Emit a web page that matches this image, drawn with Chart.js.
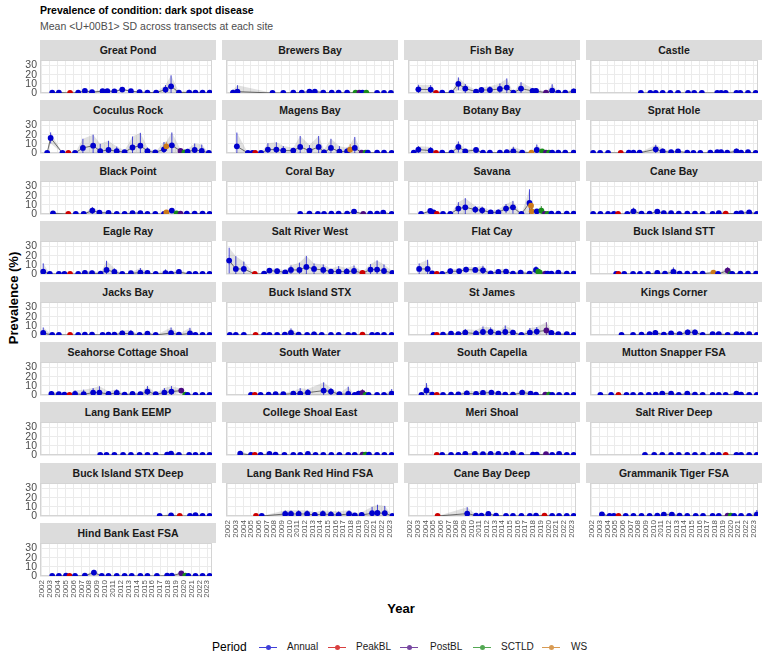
<!DOCTYPE html>
<html>
<head>
<meta charset="utf-8">
<script src="https://cdn.jsdelivr.net/npm/chart.js@4.4.1/dist/chart.umd.min.js"></script>
<style>
  body { margin: 0; background: #fff; width: 768px; height: 672px; position: relative; overflow: hidden;
         font-family: "Liberation Sans", Arial, sans-serif; }
  .abs { position: absolute; white-space: nowrap; }
  .strip { position: absolute; height: 20px; width: 176px; background: #dcdcdc; color: #1a1a1a;
           font-weight: bold; font-size: 10.5px; line-height: 20px; text-align: center; }
  canvas { position: absolute; }
  .key { position: absolute; width: 18px; height: 1px; }
  .dot { position: absolute; width: 5px; height: 5px; border-radius: 50%; left: 6.5px; top: -2px; }
</style>
</head>
<body>
<div class="abs" style="left:40px;top:4px;font-weight:bold;font-size:10.5px;color:#000">Prevalence of condition: dark spot disease</div>
<div class="abs" style="left:40px;top:20px;font-size:10.5px;color:#4d4d4d">Mean &lt;U+00B1&gt; SD across transects at each site</div>
<div class="abs" style="left:13px;top:298px;transform:translate(-50%,-50%) rotate(-90deg);font-weight:bold;font-size:13px;color:#000">Prevalence (%)</div>
<div class="abs" style="left:401px;top:608px;transform:translate(-50%,-50%);font-weight:bold;font-size:13px;color:#000">Year</div>
<div id="legend"></div>

<script>
// --- data -------------------------------------------------------------
const periodNames = ['Annual', 'PeakBL', 'PostBL', 'SCTLD', 'WS'];
const periodColors = ['#0000cd', '#cd0000', '#4b0a82', '#1a8c1a', '#cc7a1a'];
const yearTicks = [2002, 2003, 2004, 2005, 2006, 2007, 2008, 2009, 2010, 2011, 2012,
                   2013, 2014, 2015, 2016, 2017, 2018, 2019, 2020, 2021, 2022, 2023];
const yTicks = [0, 10, 20, 30];

const siteNames = [
  'Great Pond', 'Brewers Bay', 'Fish Bay', 'Castle',
  'Coculus Rock', 'Magens Bay', 'Botany Bay', 'Sprat Hole',
  'Black Point', 'Coral Bay', 'Savana', 'Cane Bay',
  'Eagle Ray', 'Salt River West', 'Flat Cay', 'Buck Island STT',
  'Jacks Bay', 'Buck Island STX', 'St James', 'Kings Corner',
  'Seahorse Cottage Shoal', 'South Water', 'South Capella', 'Mutton Snapper FSA',
  'Lang Bank EEMP', 'College Shoal East', 'Meri Shoal', 'Salt River Deep',
  'Buck Island STX Deep', 'Lang Bank Red Hind FSA', 'Cane Bay Deep', 'Grammanik Tiger FSA',
  'Hind Bank East FSA'
];

const siteYears = [
  [2003.3, 2004.15, 2005.57, 2006.6, 2007.45, 2008.36, 2009.7, 2010.3, 2011.2, 2012.2, 2013.3, 2014.4, 2015.4, 2016.5, 2017.7, 2018.4, 2019.4, 2020.7, 2021.5, 2022.4, 2023.3],
  [2002.66, 2003.24, 2007.8, 2009.2, 2010.5, 2011.6, 2012.6, 2013.3, 2014.4, 2015.5, 2016.4, 2017.5, 2018.6, 2019.1, 2019.5, 2020.0, 2021.4, 2022.3, 2023.2],
  [2003.1, 2004.7, 2005.4, 2006.2, 2007.4, 2008.3, 2009.2, 2010.6, 2011.3, 2012.4, 2013.7, 2014.6, 2015.45, 2016.45, 2017.95, 2018.4, 2019.7, 2020.5, 2021.3, 2022.2, 2023.3],
  [2008.37, 2009.6, 2010.3, 2011.2, 2012.2, 2013.2, 2014.5, 2015.3, 2016.3, 2018.3, 2018.8, 2019.4, 2020.8, 2021.3, 2022.3, 2023.3],
  [2002.66, 2003.1, 2004.6, 2005.35, 2006.2, 2007.2, 2008.5, 2009.4, 2010.45, 2011.5, 2012.5, 2013.5, 2014.5, 2015.4, 2016.4, 2017.5, 2017.8, 2018.5, 2019.6, 2020.1, 2020.5, 2021.4, 2022.3, 2023.2],
  [2003.16, 2004.6, 2005.2, 2005.55, 2006.3, 2007.2, 2008.3, 2009.2, 2010.5, 2011.4, 2012.6, 2013.8, 2014.5, 2015.4, 2016.5, 2017.5, 2017.9, 2018.5, 2019.4, 2019.9, 2020.2, 2021.4, 2022.3, 2023.3],
  [2002.5, 2003.1, 2004.7, 2005.4, 2006.2, 2007.4, 2008.3, 2009.2, 2010.6, 2011.5, 2012.4, 2013.7, 2014.6, 2015.45, 2016.6, 2017.8, 2018.5, 2019.2, 2019.7, 2020.1, 2020.5, 2021.3, 2022.2, 2023.3],
  [2002.16, 2003.07, 2004.1, 2005.75, 2006.8, 2007.4, 2008.2, 2010.3, 2011.2, 2012.3, 2013.2, 2014.4, 2015.2, 2016.1, 2017.4, 2018.3, 2018.8, 2019.6, 2020.8, 2021.4, 2022.3, 2023.3],
  [2003.4, 2005.35, 2006.3, 2007.3, 2008.4, 2009.3, 2010.45, 2011.5, 2012.5, 2013.5, 2014.5, 2015.4, 2016.4, 2017.5, 2017.8, 2018.5, 2019.1, 2019.6, 2020.4, 2021.4, 2022.4, 2023.3],
  [2011.4, 2012.6, 2013.7, 2014.5, 2015.45, 2016.4, 2017.5, 2018.4, 2019.6, 2020.5, 2021.4, 2022.2, 2023.3],
  [2003.45, 2004.65, 2005.07, 2005.5, 2006.3, 2007.25, 2008.3, 2009.2, 2010.5, 2011.4, 2012.5, 2013.5, 2014.5, 2015.4, 2016.5, 2017.55, 2017.75, 2017.85, 2018.5, 2019.1, 2019.55, 2019.9, 2020.4, 2021.3, 2022.4, 2023.3],
  [2002.16, 2003.1, 2004.1, 2004.85, 2005.4, 2006.6, 2007.4, 2008.45, 2009.5, 2010.5, 2011.35, 2012.3, 2013.3, 2014.4, 2015.4, 2016.4, 2017.7, 2018.5, 2019.4, 2020.8, 2021.4, 2022.45, 2023.45],
  [2002.16, 2003.0, 2004.15, 2004.85, 2005.57, 2006.6, 2007.45, 2008.36, 2009.45, 2010.2, 2011.2, 2012.2, 2013.3, 2014.5, 2015.4, 2016.45, 2017.7, 2018.4, 2019.4, 2020.7, 2021.5, 2022.4, 2023.3],
  [2002.16, 2003.03, 2004.07, 2005.5, 2006.7, 2007.4, 2008.4, 2009.45, 2010.2, 2011.3, 2012.2, 2013.2, 2014.4, 2015.4, 2016.4, 2017.45, 2018.4, 2019.5, 2020.55, 2021.4, 2022.3, 2023.4],
  [2003.2, 2004.3, 2004.9, 2005.5, 2006.2, 2007.25, 2008.4, 2009.3, 2010.5, 2011.5, 2012.5, 2013.5, 2014.5, 2015.4, 2016.4, 2017.55, 2018.4, 2018.7, 2018.9, 2019.6, 2019.9, 2020.4, 2021.3, 2022.4, 2023.3],
  [2005.15, 2005.45, 2006.2, 2007.35, 2008.25, 2009.3, 2010.5, 2011.5, 2012.6, 2013.4, 2014.4, 2015.4, 2016.4, 2017.8, 2018.4, 2019.65, 2020.05, 2020.25, 2021.3, 2022.3, 2023.35],
  [2002.16, 2003.3, 2004.15, 2005.57, 2006.6, 2007.45, 2008.36, 2009.7, 2010.45, 2011.2, 2012.2, 2013.3, 2014.4, 2015.4, 2016.45, 2018.4, 2019.4, 2020.8, 2021.5, 2022.4, 2023.3],
  [2002.25, 2003.03, 2004.07, 2005.6, 2006.7, 2007.4, 2008.4, 2009.4, 2010.2, 2011.2, 2012.3, 2013.2, 2014.2, 2015.4, 2016.4, 2017.65, 2018.4, 2019.5, 2020.75, 2021.45, 2022.3, 2023.3],
  [2005.07, 2005.5, 2006.3, 2007.35, 2008.3, 2009.2, 2010.6, 2011.5, 2012.5, 2013.5, 2014.4, 2015.4, 2016.5, 2017.6, 2018.5, 2019.75, 2020.4, 2021.3, 2022.4, 2023.3],
  [2005.85, 2007.35, 2008.45, 2009.5, 2010.25, 2011.35, 2012.3, 2013.4, 2014.45, 2015.4, 2016.4, 2017.7, 2018.5, 2019.65, 2020.8, 2021.5, 2022.45, 2023.45],
  [2003.2, 2004.15, 2004.85, 2005.5, 2006.2, 2007.3, 2008.5, 2009.3, 2010.45, 2011.5, 2012.5, 2013.5, 2014.5, 2015.4, 2016.45, 2017.55, 2018.45, 2019.7, 2020.2, 2020.5, 2021.5, 2022.4, 2023.3],
  [2005.0, 2005.5, 2006.25, 2007.3, 2008.2, 2009.2, 2010.5, 2011.4, 2012.4, 2014.45, 2015.4, 2016.5, 2017.65, 2018.5, 2019.0, 2019.5, 2019.9, 2020.3, 2021.4, 2022.3, 2023.3],
  [2003.5, 2004.15, 2004.9, 2005.5, 2006.3, 2007.35, 2008.3, 2009.4, 2010.6, 2011.5, 2012.6, 2013.5, 2014.4, 2015.4, 2016.6, 2017.7, 2018.4, 2019.6, 2020.1, 2020.5, 2021.4, 2022.4, 2023.3],
  [2003.1, 2004.5, 2005.45, 2006.5, 2007.35, 2008.35, 2009.4, 2010.3, 2011.15, 2012.3, 2013.3, 2014.4, 2015.4, 2016.4, 2017.7, 2018.5, 2019.4, 2020.8, 2021.4, 2022.45, 2023.45],
  [2009.4, 2010.2, 2011.2, 2012.3, 2013.3, 2014.4, 2015.4, 2016.45, 2017.9, 2018.4, 2019.4, 2020.7, 2021.5, 2022.4, 2023.3],
  [2003.6, 2005.0, 2005.5, 2006.25, 2007.4, 2008.2, 2009.35, 2010.5, 2011.4, 2012.4, 2013.4, 2014.4, 2015.45, 2016.5, 2017.65, 2018.5, 2019.5, 2019.9, 2020.35, 2021.4, 2022.35, 2023.3],
  [2005.5, 2006.2, 2007.35, 2008.3, 2009.2, 2010.45, 2011.5, 2012.5, 2013.5, 2014.5, 2015.4, 2016.5, 2018.0, 2018.5, 2019.7, 2020.5, 2021.4, 2022.4, 2023.3],
  [2008.9, 2010.1, 2011.15, 2012.3, 2013.3, 2014.4, 2015.4, 2016.45, 2017.7, 2018.5, 2019.4, 2020.8, 2021.4, 2022.45, 2023.45],
  [2016.95, 2018.4, 2019.5, 2020.8, 2021.5, 2022.4, 2023.3],
  [2005.65, 2006.4, 2009.45, 2010.2, 2011.2, 2012.3, 2013.3, 2014.35, 2015.4, 2016.4, 2017.75, 2018.5, 2019.4, 2020.75, 2021.45, 2022.4, 2023.4],
  [2005.6, 2009.45, 2010.6, 2011.3, 2012.2, 2013.2, 2014.5, 2015.4, 2016.5, 2017.6, 2018.4, 2019.5, 2020.5, 2021.4, 2022.4, 2023.3],
  [2003.3, 2004.3, 2004.85, 2005.45, 2006.4, 2007.4, 2008.45, 2009.5, 2010.5, 2011.35, 2012.4, 2013.4, 2014.4, 2015.5, 2016.45, 2017.7, 2018.5, 2019.65, 2020.05, 2020.5, 2021.4, 2022.45, 2023.45],
  [2003.3, 2004.15, 2005.05, 2005.5, 2006.2, 2007.45, 2008.6, 2009.6, 2010.45, 2011.5, 2012.5, 2013.4, 2014.5, 2015.4, 2016.6, 2017.9, 2018.5, 2019.7, 2020.2, 2020.6, 2021.5, 2022.4, 2023.3]
];

const siteMeans = [
  [0.5, 0.5, 0, 0.5, 2.2, 1, 2, 2, 1.8, 3.7, 2, 1, 0.5, 0.5, 3.7, 7.3, 0.5, 0.5, 0.3, 0.3, 0.3],
  [0.5, 1.5, 0, 0, 0.3, 0.5, 1.5, 1.5, 0.5, 0.3, 0.3, 0.3, 0.3, 0.3, 0.3, 0.3, 0, 0, 0],
  [4, 3.7, 0, 0.3, 0.3, 10, 4.8, 1.5, 3.3, 3.3, 4.4, 5.9, 0.3, 4.8, 2.2, 2.2, 0.3, 2.6, 0.3, 0.3, 1.8],
  [0, 0, 0, 0, 0, 0, 0, 0, 0, 0, 0, 0, 0, 0, 0, 0],
  [0, 16.5, 0, 0, 0, 5.5, 8, 2, 3.3, 2, 1, 6, 8, 2, 0.7, 4, 7.3, 8.4, 2.2, 0.7, 1.5, 3.3, 2.2, 0],
  [7.3, 0, 0, 0, 0, 3.7, 3.7, 2.6, 2.6, 6.6, 2.6, 6.6, 0.7, 5.5, 1.5, 1.8, 3.7, 5.5, 0.3, 0.3, 0.3, 0.3, 0.3, 0],
  [0.3, 3.7, 2.6, 0, 0.3, 0.3, 6.6, 1.8, 3.3, 0.3, 0.3, 0.3, 1, 1.8, 0.3, 0.3, 3.3, 1.8, 0.3, 0.3, 0.3, 0.3, 0.3, 0.3],
  [0, 0, 0, 0, 0.3, 0.5, 0.3, 4, 1.8, 0.8, 1.8, 0.3, 0, 0, 0.3, 0.8, 0.8, 0.3, 1.8, 0.3, 0.8, 0],
  [0.7, 0, 0, 0, 3.7, 1.5, 1.2, 0, 0, 1, 1, 0, 0, 0, 1.8, 3.7, 0.7, 0.3, 0.3, 0.3, 0.5, 0],
  [0, 0.3, 0, 0, 0.3, 0.3, 0.3, 2.6, 0, 0.3, 0.3, 1.5, 0],
  [0, 3.3, 1.8, 0, 0, 0, 5.9, 7.3, 4.8, 4, 1.8, 1.8, 5.9, 7.3, 0, 12, 9, 2.9, 2.9, 3.7, 0, 0, 0.3, 0.3, 0.3, 0.3],
  [0, 0, 0, 0, 0, 0, 2.9, 0.3, 0.3, 2.6, 0.8, 0.8, 0.3, 0.3, 0.3, 0, 0, 0.8, 0.5, 0.3, 0.8, 1.8, 0],
  [2.6, 0, 0, 0, 0, 0, 1.1, 0.8, 0.5, 4.4, 2.2, 0, 0.8, 1.5, 1.1, 0, 1, 0.5, 2.2, 0, 0, 0, 0],
  [14.7, 5.5, 5.5, 0, 0.3, 3.7, 3, 1.8, 4.4, 4.4, 7.7, 5.5, 4.4, 2.6, 2.6, 2.6, 3.3, 1.1, 4.8, 4.8, 3.3, 1.1],
  [5.5, 5.5, 0.7, 0, 0, 3, 3, 4.8, 4.4, 4, 0.7, 2.2, 2.6, 0.3, 1.5, 0.3, 4.4, 2.6, 1.5, 0.3, 0.3, 0.3, 1.5, 0.3, 0.3],
  [0, 0, 0, 0, 0, 0, 1.1, 0.3, 2.2, 0.3, 0.3, 0.3, 0.3, 1.5, 0, 3.7, 0, 0, 0.3, 0.3, 0.3],
  [2.2, 0, 0, 0, 0, 0.3, 0.5, 0, 0.5, 0.3, 1.8, 1.5, 0, 1.5, 0, 2.2, 0.3, 1.8, 0, 0, 0],
  [0, 0, 0, 0, 0, 0, 0, 0.3, 2.2, 0.3, 0, 0.7, 0, 0, 0, 0, 0, 0.3, 0, 0, 0, 0],
  [0, 0, 0.3, 1.5, 0.8, 2.6, 1.5, 3.3, 3.3, 1.8, 3.3, 2.6, 0, 2.6, 3.7, 5, 2.2, 0.8, 0.8, 0],
  [0, 0, 0.3, 1, 2.2, 0.5, 1.8, 0.8, 2.9, 2.9, 0, 1, 1, 0, 1, 0.3, 0.8, 0],
  [1.1, 0.8, 0.5, 0, 1.1, 0.8, 2.6, 2.6, 1.1, 2.2, 0.3, 1.1, 0.8, 3.7, 0.8, 2.6, 3.7, 4.8, 0.3, 0, 0, 0, 0],
  [0, 0, 0, 0.3, 0.8, 0.8, 1.5, 1.5, 2.6, 4.8, 3.7, 0.8, 1.1, 0, 1.5, 2.2, 0, 0, 0, 0, 1.5],
  [0, 5, 0.3, 0, 0, 0.3, 0.7, 1.8, 1.1, 2.2, 2.6, 1.5, 0.3, 0.3, 2.6, 1.5, 0.3, 0.3, 0.3, 0, 0, 0, 0],
  [0, 0, 0, 0, 0, 0, 0, 0.3, 1.5, 1.5, 0, 1.5, 0.3, 0, 0, 0, 0, 1.5, 0.5, 0, 0],
  [0, 0, 0, 0, 0, 0, 0, 0, 0.3, 1.5, 0, 0, 0, 0, 0],
  [1.5, 0, 0, 0, 1.1, 0.3, 0, 0, 0, 1.1, 0, 0, 0, 0, 0, 0, 0.3, 0.3, 0.3, 0, 0, 0],
  [0, 0, 0, 0, 1.1, 1.1, 0.8, 1.1, 1.1, 0.3, 1.8, 0, 0.3, 0.3, 0.8, 0, 1.1, 0, 0],
  [0, 0, 0, 0, 0, 0, 0, 0, 0, 0, 0, 0, 0, 0, 0],
  [0, 0.7, 0, 0, 1, 0, 0],
  [0, 0, 2.2, 2.2, 2.2, 2.2, 1.1, 2.2, 1.5, 1.1, 2.2, 0.7, 1.1, 3, 3.3, 3, 0],
  [0, 2.6, 0.5, 0.3, 2.2, 0.3, 0, 0, 0, 0, 0.3, 0.5, 0, 0, 0, 0],
  [1.8, 0, 0, 0, 0, 0, 0, 0, 0.3, 1.5, 1.5, 0.3, 0, 0, 0, 0, 0, 0.3, 0.3, 0, 0, 0, 1.5],
  [0, 0, 0.3, 0, 0, 0.3, 3.7, 0, 0, 0, 0, 0, 0, 0, 0, 0.3, 0.3, 2.9, 0.3, 0, 0, 0, 0]
];

const siteSDs = [
  [0.5, 0.5, 0, 0.5, 1.5, 1, 1.5, 1.5, 1, 1.5, 1, 0.5, 0.5, 0.5, 5, 12, 0.5, 3, 0.5, 0.5, 0.3],
  [3, 7, 0, 0, 0.5, 0.5, 1.5, 2, 0.5, 0.5, 0.3, 0.3, 0.3, 0.3, 0.3, 0.3, 0, 0, 0],
  [5, 5, 0, 0.3, 0.3, 7, 5, 1.5, 3, 4, 6, 10, 0.3, 7, 3, 3, 0.3, 7, 0.3, 0.3, 3],
  [0, 0, 0, 0, 0, 0, 0, 0, 0, 0, 0, 0, 0, 0, 0, 0],
  [0, 6, 0, 0, 0, 10, 12, 8, 10, 5, 2, 12, 14, 4, 0.5, 8, 5, 14, 2, 0.5, 3, 7, 7, 0],
  [15, 0, 0, 0, 0, 7, 8, 5, 3, 12, 6, 12, 3, 10, 6, 4, 6, 12, 0.3, 0.3, 0.3, 0.3, 0.3, 0],
  [0.3, 4, 4, 0, 0.3, 0.3, 6, 2, 2, 0.3, 0.3, 0.3, 1, 5, 3, 0.3, 6, 1.5, 0.3, 0.3, 0.3, 0.3, 0.3, 0.3],
  [0, 0, 0, 0, 0.3, 0.5, 0.3, 5, 3, 1, 1.5, 0.3, 0, 0, 0.3, 1, 1, 0.3, 3, 0.3, 0.8, 0],
  [1.5, 0, 0, 0, 4, 1.5, 1, 0, 0, 1, 1, 0, 0, 0, 2, 2.5, 1, 0.3, 0.3, 0.3, 0.5, 0],
  [0, 0.3, 0, 0, 0.3, 0.3, 0.3, 2, 0, 0.3, 0.3, 1, 0],
  [0, 2, 1, 0, 0, 0, 7, 10, 4, 4, 2, 3, 5, 7, 0, 15, 3, 2, 2, 5, 0, 0, 0.3, 0.3, 0.3, 0.3],
  [0, 0, 0, 0, 0, 0, 4, 0.3, 0.3, 1.5, 1, 1, 0.3, 0.3, 0.3, 0, 0, 1, 1, 0.3, 1, 2, 0],
  [9, 0, 0, 0, 0, 0, 1.5, 3, 0.5, 10, 4, 0, 1, 5, 1, 0, 4, 1, 3, 0, 0, 0, 0],
  [14, 14, 8, 0, 0.3, 2, 3, 2, 5, 8, 12, 6, 6, 3, 6, 4, 6, 1, 6, 10, 7, 2],
  [6, 10, 1, 0, 0, 3, 2, 3, 3, 5, 1, 3, 3, 0.3, 3, 0.3, 4, 2, 2, 0.3, 0.3, 0.3, 1, 0.3, 0.3],
  [0, 0, 0, 0, 0, 0, 2, 0.3, 5, 0.3, 0.3, 1, 0.3, 2, 0, 4, 0, 0, 1.5, 0.3, 0.3],
  [6, 0, 0, 0, 0, 0.3, 0.5, 0, 1, 0.5, 3, 4, 0, 2, 0, 6, 1, 6, 0, 0, 0],
  [0, 0, 0, 0, 0, 0, 0, 0.3, 5, 1, 0, 3, 0, 0, 0, 0, 0, 0.3, 0, 0, 0, 0],
  [0, 0, 0.3, 1, 1, 4, 4, 6, 5, 2, 7, 3, 0, 5, 5, 9, 3, 1, 1, 0],
  [0, 0, 0.3, 1, 3, 0.5, 2, 1, 3, 3, 1, 1.5, 1.5, 2, 1.5, 0.5, 1, 0],
  [3, 2, 1, 0, 4, 5, 5, 7, 3, 4, 0.5, 2, 1, 6, 1, 5, 6, 2, 0.3, 0, 0, 0, 0],
  [0, 0, 0, 0.3, 1, 1, 3, 6, 4, 9, 4, 1, 8, 0, 3, 4, 0, 0, 0, 0, 5],
  [0, 8, 0.3, 0, 0, 0.3, 1, 3, 3, 3, 2, 1.5, 0.3, 0.3, 3, 2, 0.3, 0.3, 0.3, 0, 0, 0, 0],
  [0, 0, 0, 0, 0, 0, 0, 0.5, 2, 2, 0, 2, 0.5, 0, 0, 0, 0, 2, 0.5, 0, 0],
  [0, 0, 0, 0, 0, 0, 0, 0, 0.5, 2, 0, 0, 0, 0, 0],
  [3, 0, 0, 0, 2, 0.3, 0, 0, 0, 1, 0, 0, 0, 0, 0, 0, 0.3, 0.3, 0.3, 0, 0, 0],
  [0, 0, 0, 0, 1, 1, 1, 1, 1, 0.3, 1.5, 0, 0.3, 0.3, 1, 0, 1, 0, 0],
  [0, 0, 0, 0, 0, 0, 0, 0, 0, 0, 0, 0, 0, 0, 0],
  [0, 2, 0, 0, 1.5, 0, 0],
  [0, 0, 4, 4, 4, 4, 3, 4, 4, 4, 4, 2, 3, 7, 9, 8, 0],
  [0, 7, 1, 0.5, 2, 0.5, 0, 0, 0, 0, 0.3, 1, 0, 0, 0, 0],
  [2, 0, 0, 0, 0, 0, 0, 0, 0.3, 2, 2, 0.3, 0, 0, 0, 0, 0, 0.3, 0.3, 0, 0, 0, 5],
  [0, 0, 0.3, 0, 0, 0.3, 3, 0, 0, 0, 0, 0, 0, 0, 0, 0.3, 0.3, 2, 0.3, 0, 0, 0, 0]
];

// index into periodNames
const sitePeriods = [
  [0, 0, 1, 0, 0, 0, 0, 0, 0, 0, 0, 0, 0, 0, 0, 0, 0, 0, 0, 0, 0],
  [0, 0, 0, 0, 0, 0, 0, 0, 0, 0, 0, 0, 3, 2, 0, 3, 0, 0, 0],
  [0, 0, 1, 0, 0, 0, 0, 0, 0, 0, 0, 0, 0, 0, 0, 0, 2, 0, 0, 0, 0],
  [0, 0, 0, 0, 0, 0, 0, 0, 0, 0, 0, 0, 0, 0, 0, 0],
  [0, 0, 0, 1, 0, 0, 0, 0, 0, 0, 0, 0, 0, 0, 0, 0, 4, 0, 2, 3, 0, 0, 0, 0],
  [0, 0, 0, 1, 0, 0, 0, 0, 0, 0, 0, 0, 0, 0, 0, 0, 4, 0, 2, 3, 0, 0, 0, 0],
  [0, 0, 0, 1, 0, 0, 0, 0, 0, 0, 0, 0, 0, 0, 0, 4, 0, 3, 2, 3, 0, 0, 0, 0],
  [0, 0, 0, 1, 0, 0, 0, 0, 0, 0, 0, 0, 0, 0, 0, 0, 0, 0, 0, 0, 0, 0],
  [0, 1, 0, 0, 0, 0, 0, 0, 0, 0, 0, 0, 0, 0, 4, 0, 3, 2, 0, 0, 0, 0],
  [0, 0, 0, 0, 0, 0, 0, 0, 2, 0, 0, 0, 0],
  [0, 0, 0, 1, 0, 0, 0, 0, 0, 0, 0, 0, 0, 0, 0, 0, 4, 4, 0, 3, 2, 3, 0, 0, 0, 0],
  [0, 0, 0, 0, 1, 0, 0, 0, 0, 0, 0, 0, 0, 0, 0, 0, 0, 0, 1, 0, 0, 0, 0],
  [0, 0, 0, 0, 1, 0, 0, 0, 0, 0, 0, 0, 0, 0, 0, 0, 0, 0, 0, 0, 0, 0, 0],
  [0, 0, 0, 1, 0, 0, 0, 0, 0, 0, 0, 0, 0, 0, 0, 0, 0, 1, 0, 0, 0, 0],
  [0, 0, 0, 1, 0, 0, 0, 0, 0, 0, 0, 0, 0, 0, 0, 0, 0, 3, 3, 2, 0, 0, 0, 0, 0],
  [0, 1, 0, 0, 0, 0, 0, 0, 0, 0, 0, 0, 0, 4, 0, 2, 3, 0, 0, 0, 0],
  [0, 0, 0, 1, 0, 0, 0, 0, 0, 0, 0, 0, 0, 0, 0, 0, 0, 0, 0, 0, 0],
  [0, 0, 0, 1, 0, 0, 0, 0, 0, 0, 0, 0, 0, 0, 0, 0, 0, 1, 0, 0, 0, 0],
  [0, 1, 0, 0, 0, 0, 0, 0, 0, 0, 0, 0, 0, 0, 0, 2, 0, 0, 0, 0],
  [0, 0, 0, 0, 0, 0, 0, 0, 0, 0, 0, 0, 0, 0, 0, 0, 0, 0],
  [0, 0, 0, 1, 0, 0, 0, 0, 0, 0, 0, 0, 0, 0, 0, 0, 0, 2, 3, 0, 0, 0, 0],
  [0, 1, 0, 0, 0, 0, 0, 0, 0, 0, 0, 0, 0, 0, 0, 2, 3, 0, 0, 0, 0],
  [0, 0, 0, 1, 0, 0, 0, 0, 0, 0, 0, 0, 0, 0, 0, 0, 0, 2, 3, 0, 0, 0, 0],
  [0, 0, 1, 0, 0, 0, 0, 0, 0, 0, 0, 0, 0, 0, 0, 0, 0, 0, 0, 0, 0],
  [0, 0, 0, 0, 0, 0, 0, 0, 0, 0, 0, 0, 0, 0, 0],
  [0, 0, 1, 0, 0, 0, 0, 0, 0, 0, 0, 0, 0, 0, 0, 0, 2, 3, 0, 0, 0, 0],
  [1, 0, 0, 0, 0, 0, 0, 0, 0, 0, 0, 0, 0, 0, 2, 0, 0, 0, 0],
  [0, 0, 0, 0, 0, 0, 0, 0, 0, 0, 1, 0, 0, 0, 0],
  [0, 0, 1, 0, 0, 0, 0],
  [1, 0, 0, 0, 0, 0, 0, 0, 0, 0, 0, 0, 0, 0, 0, 0, 0],
  [1, 0, 0, 0, 0, 0, 0, 0, 0, 0, 0, 1, 0, 0, 0, 0],
  [0, 0, 0, 1, 0, 0, 0, 0, 0, 0, 0, 0, 0, 0, 0, 0, 0, 2, 3, 0, 0, 0, 0],
  [0, 0, 0, 1, 0, 0, 0, 0, 0, 0, 0, 0, 0, 0, 0, 0, 0, 2, 3, 0, 0, 0, 0]
];

// --- layout -----------------------------------------------------------
const FONT = '"Liberation Sans", Arial, sans-serif';
const colLeft = [40, 222, 404, 586];
const panelW = 176, panelH = 33, rowStep = 60.4;

// vertical mean +/- SD bars, drawn just before the points
const errorBars = {
  id: 'errorBars',
  beforeDatasetDraw(chart, args) {
    if (args.index !== 0) return;
    const o = chart.options.plugins.errorBars;
    const {ctx, chartArea: a, scales: {x, y}} = chart;
    ctx.save();
    ctx.beginPath();
    ctx.rect(a.left, a.top, a.right - a.left, a.bottom - a.top);
    ctx.clip();
    ctx.lineWidth = 1;
    ctx.globalAlpha = 0.7;
    o.years.forEach((yr, k) => {
      if (o.sds[k] <= 0) return;
      const px = x.getPixelForValue(yr);
      ctx.strokeStyle = periodColors[o.periods[k]];
      ctx.beginPath();
      ctx.moveTo(px, y.getPixelForValue(Math.max(0, o.means[k] - o.sds[k])));
      ctx.lineTo(px, y.getPixelForValue(o.means[k] + o.sds[k]));
      ctx.stroke();
    });
    ctx.restore();
  }
};

const panelFrame = {
  id: 'panelFrame',
  beforeDatasetsDraw(chart) {
    const {ctx, chartArea: a} = chart;
    ctx.save();
    ctx.strokeStyle = '#d4d4d4';
    ctx.lineWidth = 1;
    ctx.strokeRect(a.left + 0.5, a.top + 0.5, a.right - a.left - 1, a.bottom - a.top - 1);
    ctx.restore();
  }
};

function makePanel(i) {
  const c = i % 4, r = Math.floor(i / 4);
  const bottom = i === 32 || (r === 7 && c > 0);
  const first = c === 0;
  const plotTop = Math.round(60 + r * rowStep);
  const yrs = siteYears[i], m = siteMeans[i], s = siteSDs[i], p = sitePeriods[i];

  const strip = document.createElement('div');
  strip.className = 'strip';
  strip.style.left = colLeft[c] + 'px';
  strip.style.top = (plotTop - 20) + 'px';
  strip.textContent = siteNames[i];
  document.body.appendChild(strip);

  const cv = document.createElement('canvas');
  const w = panelW + (first ? 40 : 0);
  const h = panelH + 6 + (bottom ? 32 : 6);
  cv.width = w; cv.height = h;
  cv.style.width = w + 'px'; cv.style.height = h + 'px';
  cv.style.left = (colLeft[c] - (first ? 40 : 0)) + 'px';
  cv.style.top = (plotTop - 6) + 'px';
  document.body.appendChild(cv);

  const pts = yrs.map((yr, k) => ({x: yr, y: m[k]}));
  const upper = yrs.map((yr, k) => ({x: yr, y: m[k] + s[k]}));
  const lower = yrs.map((yr, k) => ({x: yr, y: Math.max(0, m[k] - s[k])}));

  new Chart(cv, {
    type: 'scatter',
    data: {
      datasets: [
        { data: pts, showLine: false, pointRadius: 2.9, pointBorderWidth: 0,
          pointBackgroundColor: p.map(k => periodColors[k]), clip: 0 },
        { data: pts, showLine: true, borderColor: 'rgba(60,60,60,0.9)', borderWidth: 0.8,
          pointRadius: 0, tension: 0, clip: 0 },
        { data: upper, showLine: true, borderWidth: 0, pointRadius: 0, tension: 0,
          backgroundColor: 'rgba(140,140,140,0.26)', fill: 3, clip: 0 },
        { data: lower, showLine: true, borderWidth: 0, pointRadius: 0, tension: 0, fill: false, clip: 0 }
      ]
    },
    options: {
      responsive: false, animation: false, events: [],
      layout: { padding: { top: 6, bottom: bottom ? 0 : 6, left: 0, right: 0 } },
      plugins: {
        legend: { display: false }, tooltip: { enabled: false },
        errorBars: { years: yrs, means: m, sds: s, periods: p }
      },
      scales: {
        x: {
          type: 'linear', min: 2001.75, max: 2023.6,
          afterBuildTicks: sc => { sc.ticks = yearTicks.map(v => ({ value: v })); },
          afterFit: sc => { sc.height = bottom ? 32 : 0; sc.paddingLeft = 0; sc.paddingRight = 0; },
          grid: { color: '#ebebeb', lineWidth: 1, drawTicks: false },
          border: { display: false },
          ticks: { display: bottom, autoSkip: false, minRotation: 90, maxRotation: 90, padding: 4,
                   color: '#555', font: { size: 8, family: FONT }, callback: v => String(v) }
        },
        y: {
          min: 0, max: 36,
          afterBuildTicks: sc => { sc.ticks = yTicks.map(v => ({ value: v })); },
          afterFit: sc => { sc.width = first ? 40 : 0; sc.paddingTop = 0; sc.paddingBottom = 0; },
          grid: { color: '#ebebeb', lineWidth: 1, drawTicks: false },
          border: { display: false },
          ticks: { display: first, autoSkip: false, padding: 3, color: '#4d4d4d',
                   font: { size: 10.5, family: FONT, lineHeight: 1 }, callback: v => String(v) }
        }
      }
    },
    plugins: [errorBars, panelFrame]
  });
}

for (let i = 0; i < siteNames.length; i++) makePanel(i);

// --- legend -----------------------------------------------------------
const legend = document.getElementById('legend');
const title = document.createElement('div');
title.className = 'abs';
title.style.cssText = 'left:212px;top:640px;font-size:12px;color:#000';
title.textContent = 'Period';
legend.appendChild(title);
const keyLeft = [259, 328, 400, 473, 542];
const textLeft = [287, 356, 430, 501, 571];
periodNames.forEach((name, k) => {
  const key = document.createElement('div');
  key.className = 'key';
  key.style.left = keyLeft[k] + 'px';
  key.style.top = '647px';
  key.style.background = periodColors[k];
  key.style.opacity = '0.75';
  const dot = document.createElement('div');
  dot.className = 'dot';
  dot.style.background = periodColors[k];
  key.appendChild(dot);
  legend.appendChild(key);
  const t = document.createElement('div');
  t.className = 'abs';
  t.style.cssText = 'top:641px;font-size:10px;color:#1a1a1a;left:' + textLeft[k] + 'px';
  t.textContent = name;
  legend.appendChild(t);
});
</script>
</body>
</html>
